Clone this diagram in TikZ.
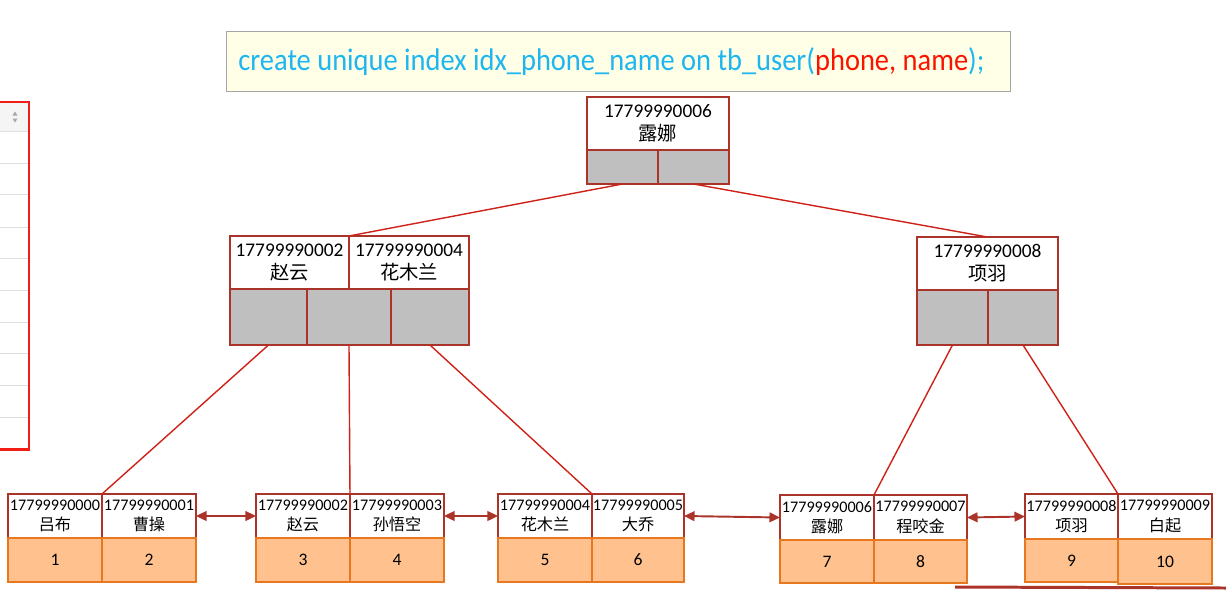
\documentclass[tikz,border=0pt]{standalone}
\usepackage{fontspec}
\setmainfont{Carlito}
\newfontfamily\cjk{Noto Sans CJK SC}
\usetikzlibrary{arrows.meta}

\definecolor{boxred}{RGB}{170,52,42}
\definecolor{linkred}{RGB}{206,34,24}
\definecolor{ptrgray}{RGB}{191,191,191}
\definecolor{rowfill}{RGB}{255,194,142}
\definecolor{rowedge}{RGB}{232,120,32}
\definecolor{notefill}{RGB}{255,255,232}
\definecolor{noteedge}{RGB}{165,165,165}
\definecolor{sqlblue}{RGB}{30,182,240}
\definecolor{sqlred}{RGB}{250,20,0}
\definecolor{tabred}{RGB}{240,30,20}

\newcommand{\kv}[2]{#1\\{\cjk #2}}

\tikzset{
  cell/.style={anchor=north west, inner sep=0pt, outer sep=0pt, line width=0.9pt},
  topkey/.style={cell, draw=boxred, fill=white, align=center, font=\fontsize{11}{13}\selectfont},
  topptr/.style={cell, draw=boxred, fill=ptrgray},
  leafkey/.style={cell, draw=boxred, fill=white, align=center, minimum width=1.88cm, minimum height=0.88cm, font=\fontsize{9.2}{11.5}\selectfont},
  leafrow/.style={cell, draw=rowedge, fill=rowfill, minimum width=1.88cm, minimum height=0.88cm, font=\fontsize{10}{12}\selectfont},
  link/.style={linkred, line width=0.8pt},
  sib/.style={{Triangle[length=6pt,width=5.5pt]}-{Triangle[length=6pt,width=5.5pt]}, boxred, line width=1.1pt}
}

\begin{document}
\begin{tikzpicture}[x=0.02cm, y=-0.02cm]
      \useasboundingbox (0,0) rectangle (1226,589);

      % table cut at the left edge
      \fill[gray!8] (0,102) rectangle (29,131);
      \foreach \yy in {131,163,194,227,258,290,322,353,385,417}
        \draw[gray!25, line width=0.4pt] (0,\yy) -- (29,\yy);
      \fill[gray!70] (12.5,115.5) -- (17.5,115.5) -- (15,111.5) -- cycle;
      \fill[gray!70] (12.5,118.5) -- (17.5,118.5) -- (15,122.5) -- cycle;
      \draw[tabred, line width=1.7pt] (-5,102) -- (29,102) -- (29,449) -- (-5,449);

      % the statement
      \node[anchor=north west, draw=noteedge, fill=notefill, line width=0.6pt,
            minimum width=15.68cm, minimum height=1.2cm] (note) at (226,31) {};
      \node[anchor=west, inner sep=0pt, text=sqlblue, font=\fontsize{16.2}{19}\selectfont] (sql) at (238,62)
        {\scalebox{1}[1.1]{create unique index idx\_phone\_name on tb\_user(\textcolor{sqlred}{phone, name});}};

      % root
      \node[topkey, minimum width=2.84cm, minimum height=1.06cm] (root) at (587,97) {\kv{17799990006}{露娜}};
      \node[topptr, minimum width=1.42cm, minimum height=0.68cm] (rootp1) at (587,150) {};
      \node[topptr, minimum width=1.42cm, minimum height=0.68cm] (rootp2) at (658,150) {};

      % left inner node
      \node[topkey, minimum width=2.38cm, minimum height=1.06cm] (lk1) at (230,236) {\kv{17799990002}{赵云}};
      \node[topkey, minimum width=2.40cm, minimum height=1.06cm] (lk2) at (349,236) {\kv{17799990004}{花木兰}};
      \node[topptr, minimum width=1.54cm, minimum height=1.12cm] (lp1) at (230,289) {};
      \node[topptr, minimum width=1.68cm, minimum height=1.12cm] (lp2) at (307,289) {};
      \node[topptr, minimum width=1.56cm, minimum height=1.12cm] (lp3) at (391,289) {};

      % right inner node
      \node[topkey, minimum width=2.82cm, minimum height=1.06cm] (rk) at (917,237) {\kv{17799990008}{项羽}};
      \node[topptr, minimum width=1.42cm, minimum height=1.10cm] (rp1) at (917,290) {};
      \node[topptr, minimum width=1.40cm, minimum height=1.10cm] (rp2) at (988,290) {};

      % leaves
      \node[leafkey] (a1) at (8,494) {\kv{17799990000}{吕布}};
      \node[leafkey] (a2) at (102,494) {\kv{17799990001}{曹操}};
      \node[leafrow] (ar1) at (8,538) {1};
      \node[leafrow] (ar2) at (102,538) {2};

      \node[leafkey] (b1) at (256,494) {\kv{17799990002}{赵云}};
      \node[leafkey] (b2) at (350,494) {\kv{17799990003}{孙悟空}};
      \node[leafrow] (br1) at (256,538) {3};
      \node[leafrow] (br2) at (350,538) {4};

      \node[leafkey] (c1) at (498,494) {\kv{17799990004}{花木兰}};
      \node[leafkey, minimum width=1.84cm] (c2) at (592,494) {\kv{17799990005}{大乔}};
      \node[leafrow] (cr1) at (498,538) {5};
      \node[leafrow, minimum width=1.84cm] (cr2) at (592,538) {6};

      \node[leafkey, minimum height=0.9cm] (d1) at (780,495) {\kv{17799990006}{露娜}};
      \node[leafkey, minimum height=0.9cm, minimum width=1.86cm] (d2) at (874,495) {\kv{17799990007}{程咬金}};
      \node[leafrow, minimum height=0.86cm] (dr1) at (780,540) {7};
      \node[leafrow, minimum height=0.86cm, minimum width=1.86cm] (dr2) at (874,540) {8};

      \node[leafkey, minimum width=1.86cm, minimum height=0.9cm] (e1) at (1025,494) {\kv{17799990008}{项羽}};
      \node[leafkey, minimum height=0.9cm] (e2) at (1118,494) {\kv{17799990009}{白起}};
      \node[leafrow, minimum width=1.86cm, minimum height=0.86cm] (er1) at (1025,539) {9};
      \node[leafrow, minimum height=0.9cm] (er2) at (1118,539) {10};

      % tree links
      \draw[link] (rootp1.south) -- (lk1.north east);
      \draw[link] (rootp2.south) -- (rk.north);
      \draw[link] (lp1.south) -- (a1.north east);
      \draw[link] (lp2.south) -- (b1.north east);
      \draw[link] (lp3.south) -- (c1.north east);
      \draw[link] (rp1.south) -- (d1.north east);
      \draw[link] (rp2.south) -- (e1.north east);

      % leaf chain
      \draw[sib] (a2.east) -- (b1.west);
      \draw[sib] (b2.east) -- (c1.west);
      \draw[sib] (c2.east) -- (d1.west);
      \draw[sib] (d2.east) -- (e1.west);

      \draw[boxred, line width=1.7pt] (955,587) -- (1226,588);
\end{tikzpicture}
\end{document}
